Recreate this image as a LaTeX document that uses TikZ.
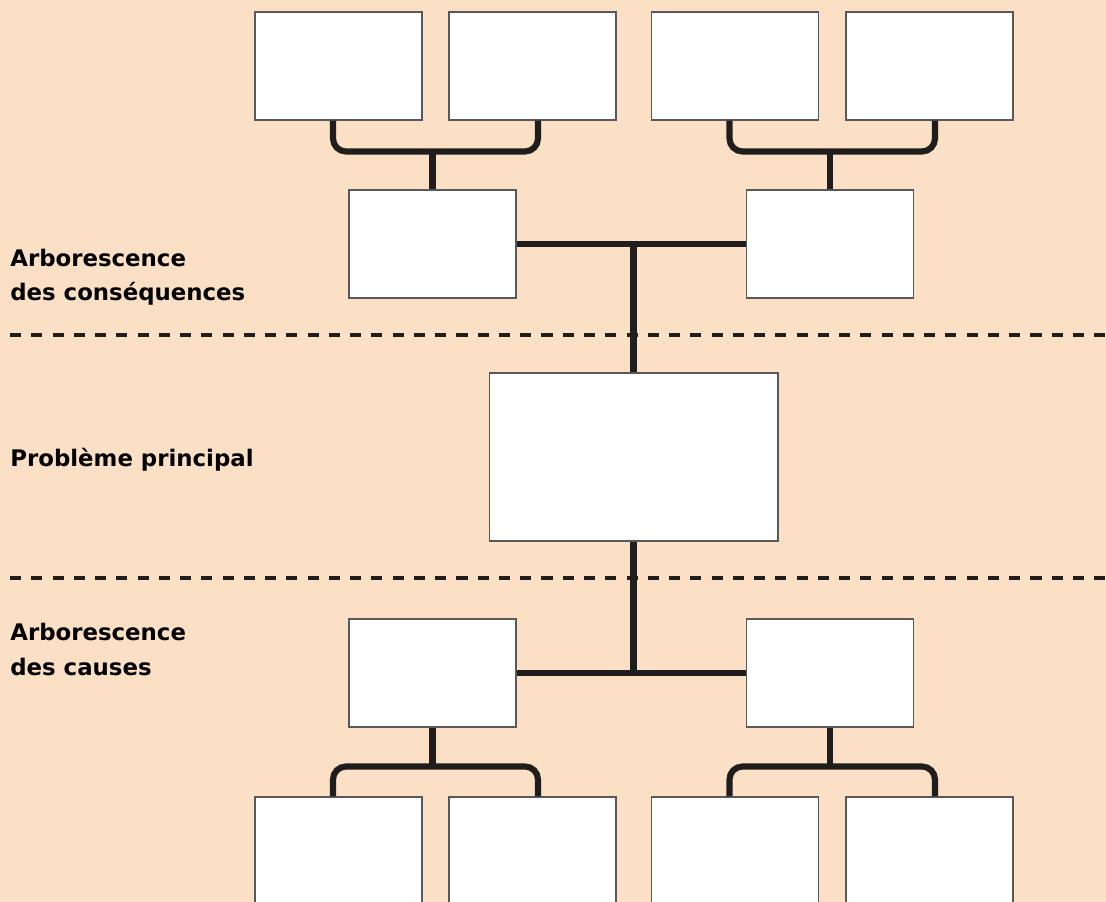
\documentclass[tikz,border=0pt]{standalone}
\usepackage{fontspec}
\setmainfont{DejaVu Sans}
\definecolor{fond}{RGB}{252,224,198}
\definecolor{trait}{RGB}{32,30,29}
\begin{document}
\begin{tikzpicture}[x=0.02cm,y=-0.02cm,
    box/.style={draw=black!65,fill=white,line width=0.6pt,minimum width=3.34cm,minimum height=2.16cm,inner sep=0pt},
    bigbox/.style={box,minimum width=5.78cm,minimum height=3.36cm},
    link/.style={line width=3.5pt,draw=trait},
    fork/.style={link,rounded corners=0.26cm},
    sep/.style={line width=1.9pt,draw=trait,dash pattern=on 6.3pt off 5.8pt},
    lbl/.style={anchor=base west,align=left,inner sep=0pt,font=\fontsize{13}{19.4}\selectfont\bfseries}]
      \fill[fond] (0,0) rectangle (1106,902);
      \useasboundingbox (0,0) rectangle (1106,902);
      \clip (0,0) rectangle (1106,902);

      \draw[sep] (10,335) -- (1106,335);
      \draw[sep] (10,578) -- (1106,578);

      \node[box] (t1) at (338.5,66) {};
      \node[box] (t2) at (532.5,66) {};
      \node[box] (t3) at (735,66) {};
      \node[box] (t4) at (929.5,66) {};
      \node[box] (c1) at (432.5,244) {};
      \node[box] (c2) at (830,244) {};
      \node[bigbox] (pb) at (633.5,457) {};
      \node[box] (k1) at (432.5,673) {};
      \node[box] (k2) at (830,673) {};
      \node[box] (b1) at (338.5,851) {};
      \node[box] (b2) at (532.5,851) {};
      \node[box] (b3) at (735,851) {};
      \node[box] (b4) at (929.5,851) {};

      \draw[fork] ([xshift=-1.1mm]t1.south) -- ++(0,31) -| ([xshift=1.1mm]t2.south);
      \draw[fork] ([xshift=-1.1mm]t3.south) -- ++(0,31) -| ([xshift=1.1mm]t4.south);
      \draw[link] (c1.north) -- ++(0,-39);
      \draw[link] (c2.north) -- ++(0,-39);
      \draw[link] (c1.east) -- (c2.west);
      \draw[link] (pb.north) -- (pb.north |- c1.east);
      \draw[link] (pb.south) -- (pb.south |- k1.east);
      \draw[link] (k1.east) -- (k2.west);
      \draw[link] (k1.south) -- ++(0,40);
      \draw[link] (k2.south) -- ++(0,40);
      \draw[fork] ([xshift=-1.1mm]b1.north) -- ++(0,-30) -| ([xshift=1.1mm]b2.north);
      \draw[fork] ([xshift=-1.1mm]b3.north) -- ++(0,-30) -| ([xshift=1.1mm]b4.north);

      \node[lbl] (cons) at (10,300.5) {Arborescence\\des conséquences};
      \node[lbl] (prob) at (10,466) {Problème principal};
      \node[lbl] (caus) at (10,675) {Arborescence\\des causes};
    \end{tikzpicture}
\end{document}
